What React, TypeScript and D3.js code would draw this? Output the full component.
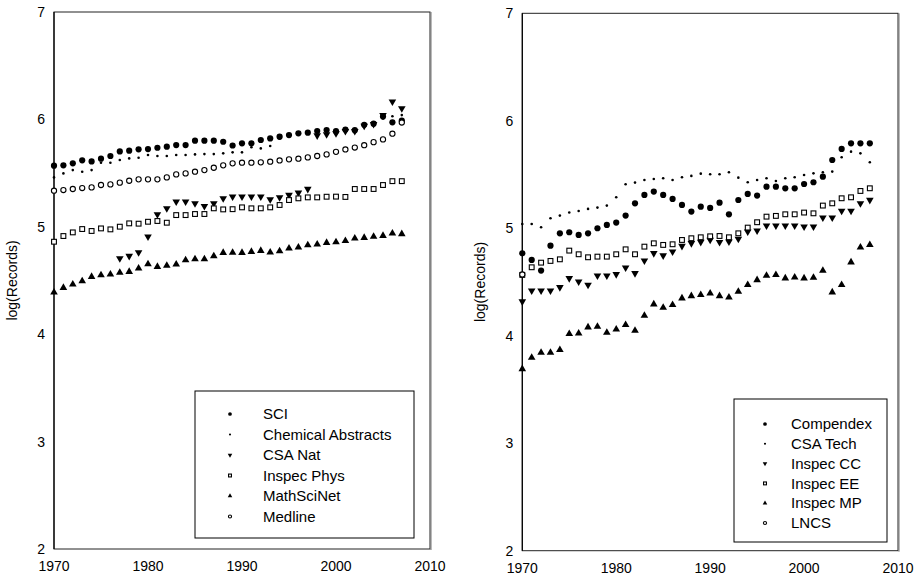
import React, { useRef, useEffect } from 'react';
import * as d3 from 'd3';

// Years on the x axis
const years = [
  1970, 1971, 1972, 1973, 1974, 1975, 1976, 1977, 1978, 1979,
  1980, 1981, 1982, 1983, 1984, 1985, 1986, 1987, 1988, 1989,
  1990, 1991, 1992, 1993, 1994, 1995, 1996, 1997, 1998, 1999,
  2000, 2001, 2002, 2003, 2004, 2005, 2006, 2007,
];
const xTicks = [1970, 1980, 1990, 2000, 2010];
const yTicks = [2, 3, 4, 5, 6, 7];
const yTitle = 'log(Records)';

// Left panel (science databases), log10 of yearly record counts
const sci = [
  5.569, 5.572, 5.591, 5.619, 5.609, 5.634, 5.659, 5.702, 5.709, 5.721,
  5.724, 5.736, 5.746, 5.761, 5.761, 5.802, 5.802, 5.802, 5.792, 5.757,
  5.777, 5.777, 5.808, 5.823, 5.839, 5.854, 5.870, 5.876, 5.892, 5.901,
  5.890, 5.905, 5.900, 5.950, 5.960, 6.026, 5.973, 5.988,
];
const chemAbstracts = [
  5.460, 5.497, 5.528, 5.513, 5.528, 5.597, 5.597, 5.622, 5.637, 5.643,
  5.668, 5.659, 5.659, 5.668, 5.668, 5.674, 5.677, 5.677, 5.684, 5.693,
  5.693, 5.740, 5.730, 5.752, 5.820, 5.840, 5.860, 5.870, 5.880, 5.890,
  5.880, 5.900, 5.890, 5.940, 5.950, 6.010, 6.030, 6.040,
];
const csaNat = [
  null, null, null, null, null, null, null, 4.706, 4.728, 4.762,
  4.908, 5.116, 5.172, 5.234, 5.234, 5.218, 5.193, 5.218, 5.265, 5.280,
  5.280, 5.280, 5.280, 5.255, 5.274, 5.296, 5.317, 5.352, 5.850, 5.860,
  5.870, 5.890, 5.890, 5.940, 5.955, 6.040, 6.165, 6.103,
];
const inspecPhys = [
  4.861, 4.914, 4.948, 4.979, 4.961, 4.985, 4.976, 5.001, 5.032, 5.029,
  5.047, 5.054, 5.038, 5.109, 5.109, 5.119, 5.119, 5.172, 5.162, 5.164,
  5.181, 5.172, 5.172, 5.181, 5.203, 5.249, 5.265, 5.274, 5.274, 5.280,
  5.281, 5.278, 5.352, 5.352, 5.352, 5.389, 5.425, 5.425,
];
const mathSciNet = [
  4.389, 4.433, 4.464, 4.495, 4.535, 4.551, 4.557, 4.573, 4.582, 4.613,
  4.653, 4.628, 4.638, 4.650, 4.690, 4.700, 4.700, 4.728, 4.759, 4.760,
  4.759, 4.768, 4.777, 4.762, 4.774, 4.799, 4.808, 4.830, 4.836, 4.852,
  4.858, 4.870, 4.892, 4.898, 4.908, 4.917, 4.939, 4.933,
];
const medline = [
  5.336, 5.342, 5.352, 5.361, 5.367, 5.389, 5.395, 5.411, 5.429, 5.442,
  5.442, 5.442, 5.460, 5.488, 5.497, 5.513, 5.528, 5.550, 5.572, 5.591,
  5.597, 5.597, 5.600, 5.606, 5.618, 5.628, 5.634, 5.646, 5.659, 5.674,
  5.698, 5.720, 5.738, 5.760, 5.788, 5.814, 5.867, 5.971,
];

// Right panel (technology databases)
const compendex = [
  4.767, 4.705, 4.606, 4.838, 4.953, 4.963, 4.938, 4.953, 5.000, 5.031,
  5.053, 5.118, 5.232, 5.310, 5.341, 5.310, 5.273, 5.217, 5.155, 5.201,
  5.189, 5.238, 5.130, 5.263, 5.319, 5.304, 5.387, 5.387, 5.372, 5.372,
  5.412, 5.428, 5.480, 5.635, 5.738, 5.790, 5.790, 5.790,
];
const csaTech = [
  5.040, 5.040, 5.009, 5.093, 5.118, 5.146, 5.161, 5.180, 5.192, 5.211,
  5.288, 5.409, 5.425, 5.449, 5.459, 5.465, 5.449, 5.474, 5.487, 5.508,
  5.502, 5.502, 5.521, 5.471, 5.428, 5.449, 5.465, 5.440, 5.465, 5.474,
  5.496, 5.511, 5.521, 5.527, 5.660, 5.713, 5.697, 5.614,
];
const inspecCC = [
  4.318, 4.420, 4.420, 4.420, 4.451, 4.535, 4.504, 4.473, 4.559, 4.559,
  4.572, 4.634, 4.581, 4.699, 4.767, 4.746, 4.783, 4.835, 4.860, 4.872,
  4.891, 4.870, 4.876, 4.901, 4.969, 4.978, 5.025, 5.025, 5.025, 5.025,
  5.015, 5.015, 5.099, 5.099, 5.161, 5.161, 5.232, 5.263,
];
const inspecEE = [
  4.566, 4.637, 4.680, 4.696, 4.711, 4.792, 4.758, 4.730, 4.736, 4.736,
  4.758, 4.804, 4.758, 4.829, 4.860, 4.845, 4.851, 4.891, 4.907, 4.916,
  4.925, 4.928, 4.916, 4.953, 5.006, 5.056, 5.108, 5.115, 5.130, 5.130,
  5.146, 5.139, 5.211, 5.232, 5.279, 5.288, 5.347, 5.372,
];
const inspecMP = [
  3.691, 3.797, 3.843, 3.843, 3.868, 4.017, 4.023, 4.079, 4.085, 4.029,
  4.060, 4.101, 4.048, 4.187, 4.293, 4.262, 4.287, 4.349, 4.370, 4.380,
  4.395, 4.370, 4.358, 4.411, 4.473, 4.519, 4.559, 4.566, 4.535, 4.544,
  4.535, 4.541, 4.606, 4.405, 4.473, 4.684, 4.823, 4.845,
];
const lncs = [
  4.570, null, null, null, null, null, null, null, null, null,
  null, null, null, null, null, null, null, null, null, null,
  null, null, null, null, null, null, null, null, null, null,
  null, null, null, null, null, null, null, null,
];

const leftNames = ['SCI', 'Chemical Abstracts', 'CSA Nat', 'Inspec Phys', 'MathSciNet', 'Medline'];
const leftValues = [sci, chemAbstracts, csaNat, inspecPhys, mathSciNet, medline];
const rightNames = ['Compendex', 'CSA Tech', 'Inspec CC', 'Inspec EE', 'Inspec MP', 'LNCS'];
const rightValues = [compendex, csaTech, inspecCC, inspecEE, inspecMP, lncs];
const markers = ['circle', 'dot', 'down', 'square', 'up', 'ocircle'];

const FONT = '"Liberation Sans", Arial, sans-serif';

// draw one marker at (x, y); k scales it (legend markers are smaller)
function drawMarker(g, type, x, y, k) {
  if (type === 'circle') {
    g.append('circle').attr('cx', x).attr('cy', y).attr('r', 3.1 * k).attr('fill', '#000');
  } else if (type === 'dot') {
    g.append('circle').attr('cx', x).attr('cy', y).attr('r', Math.max(1.3 * k, 1.05)).attr('fill', '#000');
  } else if (type === 'ocircle') {
    g.append('circle').attr('cx', x).attr('cy', y).attr('r', 2.6 * k)
      .attr('fill', '#fff').attr('stroke', '#000').attr('stroke-width', 1.1);
  } else if (type === 'square') {
    const s = 4.8 * k;
    g.append('rect').attr('x', x - s / 2).attr('y', y - s / 2).attr('width', s).attr('height', s)
      .attr('fill', '#fff').attr('stroke', '#000').attr('stroke-width', 1.1);
  } else {
    const path = d3.symbol(d3.symbolTriangle, 25 * k * k)();
    g.append('path').attr('d', path)
      .attr('transform', `translate(${x},${y})${type === 'down' ? ' rotate(180)' : ''}`)
      .attr('fill', '#000');
  }
}

const App = () => {
  const chartRef = useRef(null);

  useEffect(() => {
    d3.select(chartRef.current).selectAll('*').remove();

    const svg = d3.select(chartRef.current)
      .append('svg')
      .attr('width', 921)
      .attr('height', 579)
      .style('display', 'block')
      .style('position', 'absolute')
      .style('left', '0px')
      .style('top', '0px')
      .style('background', '#fff')
      .style('font-family', FONT);

    const panels = [
      {
        names: leftNames, values: leftValues,
        x0: 54, x1: 430, yTop: 12, yBottom: 549,
        legend: { x: 195, y: 391, w: 219, h: 147, mx: 230, tx: 263, row0: 414, step: 20.5, font: 15 },
      },
      {
        names: rightNames, values: rightValues,
        x0: 522.3, x1: 898, yTop: 13.3, yBottom: 550.7,
        legend: { x: 734, y: 399, w: 153, h: 143, mx: 765, tx: 791, row0: 424, step: 19.8, font: 15 },
      },
    ];

    panels.forEach((p) => {
      const x = d3.scaleLinear().domain([1970, 2010]).range([p.x0, p.x1]);
      const y = d3.scaleLinear().domain([2, 7]).range([p.yBottom, p.yTop]);
      const g = svg.append('g');

      // plot frame
      g.append('rect')
        .attr('x', p.x0).attr('y', p.yTop)
        .attr('width', p.x1 - p.x0).attr('height', p.yBottom - p.yTop)
        .attr('fill', 'none').attr('stroke', '#222').attr('stroke-width', 1);
      g.append('line')
        .attr('x1', p.x1 + 1).attr('x2', p.x1 + 1).attr('y1', p.yTop).attr('y2', p.yBottom + 1)
        .attr('stroke', '#777').attr('stroke-width', 1);
      g.append('line')
        .attr('x1', p.x0).attr('x2', p.x0).attr('y1', p.yTop).attr('y2', p.yBottom)
        .attr('stroke', '#000').attr('stroke-width', 1.2);

      // tick labels
      g.selectAll('.yt').data(yTicks).enter().append('text')
        .attr('x', p.x0 - 9).attr('y', (d) => y(d)).attr('dy', '0.35em')
        .attr('text-anchor', 'end').attr('font-size', 14).attr('fill', '#000')
        .text((d) => d);
      g.selectAll('.xt').data(xTicks).enter().append('text')
        .attr('x', (d) => x(d)).attr('y', p.yBottom + 22)
        .attr('text-anchor', 'middle').attr('font-size', 14).attr('fill', '#000')
        .text((d) => d);

      // axis title
      g.append('text')
        .attr('transform', `translate(${p.x0 - 42},${(p.yTop + p.yBottom) / 2}) rotate(-90)`)
        .attr('dy', '0.35em').attr('text-anchor', 'middle')
        .attr('font-size', 14).attr('fill', '#000')
        .text(yTitle);

      // points
      p.values.forEach((vals, i) => {
        const sg = g.append('g');
        vals.forEach((v, j) => {
          if (v == null) return;
          drawMarker(sg, markers[i], x(years[j]), y(v), 1);
        });
      });

      // legend
      const L = p.legend;
      g.append('rect')
        .attr('x', L.x).attr('y', L.y).attr('width', L.w).attr('height', L.h)
        .attr('fill', '#fff').attr('stroke', '#000').attr('stroke-width', 1);
      p.names.forEach((name, i) => {
        const cy = L.row0 + i * L.step;
        drawMarker(g, markers[i], L.mx, cy, 0.6);
        g.append('text')
          .attr('x', L.tx).attr('y', cy).attr('dy', '0.35em')
          .attr('font-size', L.font).attr('fill', '#000')
          .text(name);
      });
    });

    return () => {
      d3.select(chartRef.current).selectAll('*').remove();
    };
  }, []);

  return <div ref={chartRef} style={{ width: '921px', height: '579px' }} />;
};

export default App;
